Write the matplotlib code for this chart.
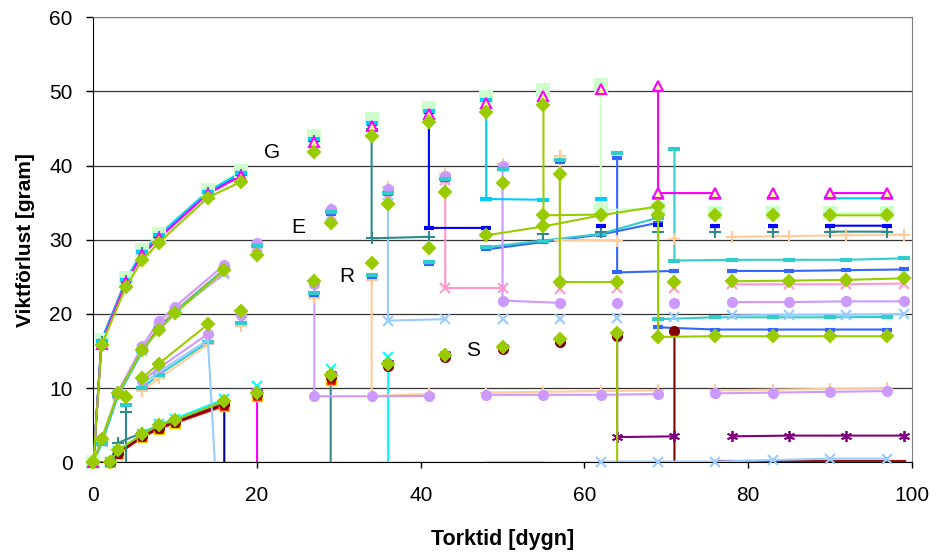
import numpy as np
import matplotlib.pyplot as plt

plt.rcParams['font.family'] = ['Liberation Sans', 'DejaVu Sans']

_ = None  # empty cell in the sheet -> line break

# ---- G group (days 0,1,4,6,8,14,18 then weekly) ----
g_tri_x = [0, 1, 4, 6, 8, 14, 18, _, 27, _, 34, _, 41, _, 48, _, 55, _, 62, _, 69, 69, 76, _, 83, _, 90, 97]
g_tri_y = [0, 16.0, 24.3, 28.0, 30.2, 36.2, 38.6, _, 43.2, _, 45.3, _, 47.0, _, 48.4, _, 49.4, _, 50.3, _, 50.7, 36.3, 36.3, _, 36.3, _, 36.3, 36.3]
g_sq_x = [0, 1, 4, 6, 8, 14, 18, _, 27, _, 34, _, 41, _, 48, _, 55, _, 62, 62, 69, _, 76, _, 83, _, 90, 97]
g_sq_y = [0, 16.5, 24.8, 28.6, 30.8, 36.7, 39.3, _, 44.0, _, 46.3, _, 47.8, _, 49.2, _, 50.2, _, 50.9, 34.0, 34.2, _, 33.6, _, 33.6, _, 33.6, 33.6]
g_sky_x = [0, 1, 4, 6, 8, 14, 18, _, 27, _, 34, _, 41, _, 48, 48, 55, _, 62, _, 69, _, 76, _, 83, _, 90, 97]
g_sky_y = [0, 16.3, 24.6, 28.4, 30.6, 36.5, 39.0, _, 43.6, _, 45.7, _, 47.4, _, 48.8, 35.5, 35.4, _, 35.5, _, 35.6, _, 35.6, _, 35.6, _, 35.6, 35.6]
g_blue_x = [0, 1, 4, 6, 8, 14, 18, _, 27, _, 34, _, 41, 41, 48, _, 55, _, 62, _, 69, _, 76, _, 83, _, 90, 97]
g_blue_y = [0, 16.4, 24.5, 28.3, 30.5, 36.4, 39.0, _, 43.5, _, 45.6, _, 47.2, 31.6, 31.6, _, 31.8, _, 31.9, _, 32.0, _, 31.9, _, 31.9, _, 31.9, 31.9]
g_teal_x = [0, 1, 4, 6, 8, 14, 18, _, 27, _, 34, 34, 41, _, 48, _, 55, _, 62, _, 69, _, 76, _, 83, _, 90, 97]
g_teal_y = [0, 16.2, 24.4, 28.2, 30.4, 36.3, 38.8, _, 43.3, _, 44.9, 30.2, 30.4, _, 30.6, _, 30.8, _, 31.0, _, 31.0, _, 31.1, _, 31.1, _, 31.1, 31.1]
g_dia_x = [0, 1, 4, 6, 8, 14, 18, _, 27, _, 34, _, 41, _, 48, _, 55, 55, 62, _, 69, _, 76, _, 83, _, 90, 97]
g_dia_y = [0, 15.8, 23.7, 27.3, 29.6, 35.7, 37.8, _, 41.9, _, 44.0, _, 45.9, _, 47.2, _, 48.2, 33.3, 33.4, _, 33.3, _, 33.3, _, 33.3, _, 33.3, 33.3]

# ---- R group ----
r_teal_x = [4, 4]
r_teal_y = [6.8, -3]
r_lbx_x = [6, 8, 14, 15, _, 48, 55]
r_lbx_y = [10.5, 12.2, 16.5, -3, _, 0, 0]
r_lbx_tail_x = [62, 69, 76, 83, 90, 97]
r_lbx_tail_y = [0.1, 0.1, 0.1, 0.3, 0.5, 0.5]
r_circ_x = [6, 8, 14, _, 18, _, 27, 27, 34, 41, _, 48, 55, 62, 69, _, 76, 83, 90, 97]
r_circ_y = [11.0, 12.7, 17.3, _, 19.9, _, 24.0, 8.9, 8.9, 8.95, _, 9.1, 9.1, 9.1, 9.2, _, 9.3, 9.4, 9.5, 9.6]
r_peach_x = [6, 8, 14, _, 18, _, 27, _, 34, 34, 41, _, 48, 55, 62, 69, _, 76, 83, 90, 97]
r_peach_y = [9.6, 11.3, 15.9, _, 18.4, _, 22.2, _, 24.6, 8.95, 9.2, _, 9.4, 9.5, 9.6, 9.7, _, 9.7, 9.8, 9.9, 10.0]
r_cyan_x = [4, _, 6, 8, 14, _, 18, _, 27, _, 34, _, 41, _, 48, 55, 62, 69, 69, 76, 83, 90, 97]
r_cyan_y = [7.7, _, 10.0, 11.8, 16.2, _, 18.8, _, 22.8, _, 25.2, _, 27.0, _, 29.0, 29.9, 30.8, 33.0, 19.3, 19.55, 19.55, 19.55, 19.6]
r_blue_x = [27, _, 34, _, 41, _, 48, 55, 62, 69, 69, 76, 83, 90, 97]
r_blue_y = [22.6, _, 25.0, _, 26.8, _, 28.7, 29.7, 30.7, 32.3, 18.2, 17.9, 17.9, 17.9, 17.9]
r_dia_x = [4, _, 6, 8, 14, _, 18, _, 27, _, 34, _, 41, _, 48, 55, 62, 69, 69, 76, 83, 90, 97]
r_dia_y = [8.8, _, 11.4, 13.3, 18.6, _, 20.4, _, 24.4, _, 26.9, _, 28.9, _, 30.6, 31.8, 33.3, 34.5, 16.9, 17.0, 17.0, 17.0, 17.0]

# ---- E group (days 0,1,3,6,8,10,16 then weekly) ----
e_dia_x = [0, 1, 3, 6, 8, 10, 16, _, 20, _, 29, _, 36, _, 43, _, 50, _, 57, 57, 64, _, 71, _, 78, 85, 92, 99]
e_dia_y = [0, 3.1, 9.3, 15.2, 17.8, 20.1, 25.9, _, 28.0, _, 32.3, _, 34.8, _, 36.5, _, 37.7, _, 38.9, 24.3, 24.3, _, 24.3, _, 24.4, 24.5, 24.6, 24.8]
e_circ_x = [0, 1, 3, 6, 8, 10, 16, _, 20, _, 29, _, 36, _, 43, _, 50, 50, 57, _, 64, _, 71, _, 78, 85, 92, 99]
e_circ_y = [0, 3.0, 9.5, 15.7, 19.0, 21.0, 26.6, _, 29.6, _, 34.1, _, 36.9, _, 38.6, _, 39.9, 21.8, 21.5, _, 21.5, _, 21.5, _, 21.6, 21.6, 21.7, 21.7]
e_pink_x = [0, 1, 3, 6, 8, 10, 16, _, 20, _, 29, _, 36, _, 43, 43, 50, _, 57, _, 64, _, 71, _, 78, 85, 92, 99]
e_pink_y = [0, 2.9, 9.2, 15.3, 18.3, 20.4, 25.6, _, 29.0, _, 33.2, _, 35.6, _, 38.0, 23.5, 23.5, _, 23.4, _, 23.5, _, 23.5, _, 24.0, 24.0, 24.0, 24.1]
e_lbx_x = [0, 1, 3, 6, 8, 10, 16, _, 20, _, 29, _, 36, 36, 43, _, 50, _, 57, _, 64, _, 71, _, 78, 85, 92, 99]
e_lbx_y = [0, 2.8, 9.1, 15.0, 18.2, 20.3, 25.4, _, 29.2, _, 33.4, _, 36.0, 19.1, 19.3, _, 19.3, _, 19.3, _, 19.4, _, 19.6, _, 19.8, 19.9, 19.9, 20.0]
e_peach_x = [0, 1, 3, 6, 8, 10, 16, _, 20, _, 29, _, 36, _, 43, _, 50, _, 57, 57, 64, _, 71, _, 78, 85, 92, 99]
e_peach_y = [0, 3.0, 9.2, 15.4, 18.5, 20.6, 26.0, _, 29.3, _, 34.2, _, 37.1, _, 38.9, _, 40.2, _, 41.3, 30.0, 29.9, _, 30.1, _, 30.4, 30.5, 30.6, 30.7]
e_blue_x = [0, 1, 3, 6, 8, 10, 16, _, 20, _, 29, _, 36, _, 43, _, 50, _, 57, _, 64, 64, 71, _, 78, 85, 92, 99]
e_blue_y = [0, 2.6, 9.0, 15.1, 18.1, 20.3, 26.0, _, 29.1, _, 33.5, _, 36.2, _, 38.1, _, 39.5, _, 40.5, _, 41.0, 25.6, 25.8, _, 25.8, 25.8, 25.9, 26.0]
e_cyan_x = [0, 1, 3, 6, 8, 10, 16, _, 20, _, 29, _, 36, _, 43, _, 50, _, 57, _, 64, _, 71, 71, 78, 85, 92, 99]
e_cyan_y = [0, 2.5, 9.0, 15.0, 18.0, 20.3, 26.0, _, 29.2, _, 33.7, _, 36.3, _, 38.2, _, 39.6, _, 40.7, _, 41.7, _, 42.2, 27.2, 27.3, 27.3, 27.3, 27.5]

# ---- S group (days 0,2,3,6,8,10,16 then weekly) ----
s_red_x = [0, 2, 3, 6, 8, 10, 16, _, 20, _, 29]
s_red_y = [0, 0, 1.1, 3.4, 4.5, 5.3, 7.6, _, 9.0, _, 11.1]
s_navy_x = [0, 2, 3, 6, 8, 10, 16, 16]
s_navy_y = [0, 0, 1.2, 3.5, 4.6, 5.5, 7.9, -3]
s_mag_x = [0, 2, 3, 6, 8, 10, 16, _, 20, 20]
s_mag_y = [0, 0, 1.2, 3.5, 4.7, 5.5, 7.9, _, 9.3, -3]
s_teal_x = [0, 2, 3, 6, 8, 10, 16, _, 20, _, 29, 29]
s_teal_y = [0, 0, 2.6, 4.0, 5.0, 5.7, 8.2, _, 9.4, _, 11.6, -3]
s_cyx_x = [0, 2, 3, 6, 8, 10, 16, _, 20, _, 29, _, 36, 36]
s_cyx_y = [0, 0, 1.5, 3.8, 5.1, 5.9, 8.5, _, 10.3, _, 12.6, _, 14.2, -3]
s_star_x = [0, 2, 3, 6, 8, 10, 16, _, 20, _, 29, _, 36, _, 43, _, 50, _, 57, _, 64, 64, 71, _, 78, 85, 92, 99]
s_star_y = [0, 0, 1.4, 3.7, 4.9, 5.6, 8.0, _, 9.5, _, 11.9, _, 13.4, _, 14.6, _, 15.6, _, 16.5, _, 17.3, 3.4, 3.5, _, 3.5, 3.6, 3.6, 3.6]
s_mar_x = [0, 2, 3, 6, 8, 10, 16, _, 20, _, 29, _, 36, _, 43, _, 50, _, 57, _, 64, _, 71, 71]
s_mar_y = [0, 0, 1.3, 3.5, 4.6, 5.4, 7.8, _, 9.2, _, 11.5, _, 13.0, _, 14.2, _, 15.3, _, 16.2, _, 17.0, _, 17.7, -3]
s_mar_tail_x = [76, 78, 85, 92, 99]
s_mar_tail_y = [0, 0, 0, 0, 0]
s_dia_x = [0, 2, 3, 6, 8, 10, 16, _, 20, _, 29, _, 36, _, 43, _, 50, _, 57, _, 64, 64]
s_dia_y = [0, 0, 1.6, 3.8, 5.0, 5.7, 8.2, _, 9.4, _, 11.8, _, 13.3, _, 14.4, _, 15.6, _, 16.6, _, 17.4, -3]

group_labels = ['G', 'E', 'R', 'S']
label_x = [21.8, 25.0, 31.0, 46.4]
label_y = [41.8, 31.6, 25.1, 15.1]

fig, ax = plt.subplots(figsize=(9.39, 5.57), dpi=100)
fig.subplots_adjust(left=0.0994, right=0.971, bottom=0.170, top=0.969)


def draw(x, y, color, marker=None, ms=7, mfc=None, mec=None, mew=1.5, lw=1.5, z=2):
    x = np.array([np.nan if v is None else v for v in x], dtype=float)
    y = np.array([np.nan if v is None else v for v in y], dtype=float)
    ax.plot(x, y, color=color, lw=lw, zorder=z)
    if marker:
        keep = ~np.isnan(y) & (y >= 0)
        ax.plot(x[keep], y[keep], ls='none', marker=marker, ms=ms,
                mfc=mfc or color, mec=mec or color, mew=mew, zorder=z + 0.5,
                clip_on=False)


PEACH, LAV, PINK, LBLUE = '#FFCC99', '#CC99FF', '#FF99CC', '#99CCFF'
CYAN, BLUE, SKY, DBLUE = '#33CCCC', '#3366FF', '#00CCFF', '#0000FF'
TEAL, GREEN, LGREEN = '#2E8B8B', '#99CC00', '#CCFFCC'
ASTER = (6, 2, 0)

# S group
draw(s_navy_x, s_navy_y, '#000080')
draw(s_mag_x, s_mag_y, '#FF00FF', 's', ms=5.5, mfc='#CC00CC')
draw(s_red_x, s_red_y, '#FF0000', 's', ms=6.5, mfc='#FF0000', mec='#FFCC00', mew=1)
draw(s_teal_x, s_teal_y, TEAL, '+', ms=8)
draw(s_cyx_x, s_cyx_y, '#00FFFF', 'x', ms=7)
draw(s_star_x, s_star_y, '#800080', ASTER, ms=8, mew=1.3)
draw(s_mar_x, s_mar_y, '#800000', 'o', ms=6.5)
draw(s_mar_tail_x, s_mar_tail_y, '#991111', lw=3, z=3)

# R group
draw(r_teal_x, r_teal_y, TEAL, '+', ms=8)
draw(r_lbx_x, r_lbx_y, LBLUE, z=3)
draw(r_lbx_x[:3], r_lbx_y[:3], LBLUE, 'x', ms=7, lw=0)
draw(r_lbx_tail_x, r_lbx_tail_y, LBLUE, 'x', ms=7, z=3)
draw(r_peach_x, r_peach_y, PEACH, '+', ms=8)
draw(r_circ_x, r_circ_y, LAV, 'o', ms=6.5)
draw(r_blue_x, r_blue_y, BLUE, '_', ms=7, mew=3)
draw(r_cyan_x, r_cyan_y, CYAN, '_', ms=8, mew=3)

# E group
draw(e_lbx_x, e_lbx_y, LBLUE, 'x', ms=7)
draw(e_pink_x, e_pink_y, PINK, 'x', ms=7)
draw(e_peach_x, e_peach_y, PEACH, '+', ms=8)
draw(e_circ_x, e_circ_y, LAV, 'o', ms=6.5)
draw(e_blue_x, e_blue_y, BLUE, '_', ms=7, mew=3)
draw(e_cyan_x, e_cyan_y, CYAN, '_', ms=8, mew=3)

# G group
draw(g_sq_x, g_sq_y, LGREEN, 's', ms=8)
draw(g_teal_x, g_teal_y, TEAL, '+', ms=8)
draw(g_blue_x, g_blue_y, DBLUE, '_', ms=7, mew=3)
draw(g_sky_x, g_sky_y, SKY, '_', ms=8, mew=3)
draw(g_tri_x, g_tri_y, '#FF00FF', '^', ms=7, mfc='#FFFF99', mew=1.5)

# green diamonds on top
for dx, dy in [(s_dia_x, s_dia_y), (r_dia_x, r_dia_y), (e_dia_x, e_dia_y), (g_dia_x, g_dia_y)]:
    draw(dx, dy, GREEN, 'D', ms=6.2, z=3)

for lab, lx, ly in zip(group_labels, label_x, label_y):
    ax.text(lx, ly, lab, fontsize=15, ha='center', va='center', zorder=5)

ax.set_xlim(0, 100)
ax.set_ylim(0, 60)
ax.set_xticks(range(0, 101, 20))
ax.set_yticks(range(0, 61, 10))
ax.tick_params(axis='x', labelsize=15, length=4, pad=13, width=1)
ax.tick_params(axis='y', labelsize=15, length=5, pad=10, width=1)
ax.yaxis.grid(True, color='#333333', lw=0.9)
ax.set_axisbelow(True)
ax.spines['top'].set_color('#808080')
ax.spines['right'].set_color('#808080')
ax.set_xlabel('Torktid [dygn]', fontsize=15.5, fontweight='bold', labelpad=17)
ax.set_ylabel('Viktförlust [gram]', fontsize=15, fontweight='bold', labelpad=10)

fig.savefig('out.png', dpi=100)
